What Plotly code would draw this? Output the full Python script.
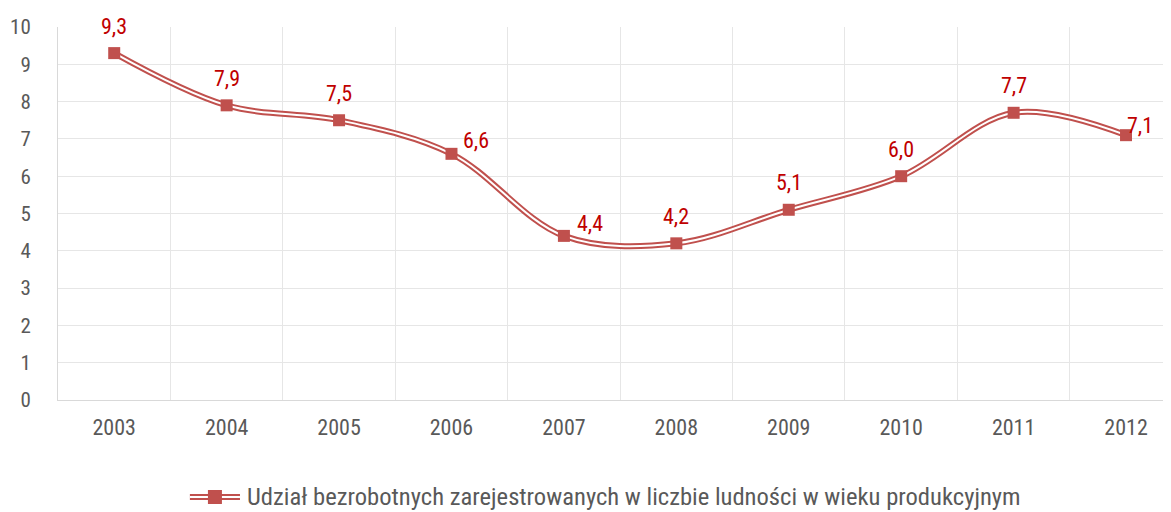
import plotly.graph_objects as go

years = ["2003", "2004", "2005", "2006", "2007", "2008", "2009", "2010", "2011", "2012"]
values = [9.3, 7.9, 7.5, 6.6, 4.4, 4.2, 5.1, 6.0, 7.7, 7.1]
labels = ["9,3", "7,9", "7,5", "6,6", "4,4", "4,2", "5,1", "6,0", "7,7", "7,1"]
series_name = "Udział bezrobotnych zarejestrowanych w liczbie ludności w wieku produkcyjnym"

# label offsets (px) so they sit where the original chart put them
label_dx = [0, 0, 0, 25, 26, 0, 0, 0, 0, 14]
label_dy = [27, 27, 27, 13, 12, 27, 27, 27, 27, 10]

RED = "#C0504D"
LABEL_RED = "#C00000"
GREY = "#595959"
FONT = "Liberation Sans Narrow, Arial Narrow, Roboto Condensed, Liberation Sans, sans-serif"

fig = go.Figure()

# outer red stroke
fig.add_trace(go.Scatter(
    x=years, y=values, mode="lines",
    line=dict(color=RED, width=6, shape="spline", smoothing=1.0),
    showlegend=False, hoverinfo="skip"
))
# white core makes the double line
fig.add_trace(go.Scatter(
    x=years, y=values, mode="lines",
    line=dict(color="white", width=2, shape="spline", smoothing=1.0),
    showlegend=False, hoverinfo="skip"
))
fig.add_trace(go.Scatter(
    x=years, y=values, mode="markers", name=series_name,
    marker=dict(symbol="square", size=12, color=RED),
    showlegend=False,
    hovertemplate="%{x}: %{y}<extra></extra>"
))

for i, (v, txt, dx, dy) in enumerate(zip(values, labels, label_dx, label_dy)):
    fig.add_annotation(
        x=i, y=v, text=txt, showarrow=False,
        xshift=dx, yshift=dy,
        font=dict(family=FONT, size=22, color=LABEL_RED)
    )

# hand-made legend: double line with square, then the series name
LEG_Y = -0.26
fig.add_shape(type="line", xref="x domain", yref="paper",
              x0=0.1185, x1=0.1635, y0=LEG_Y, y1=LEG_Y, line=dict(color=RED, width=6))
fig.add_shape(type="line", xref="x domain", yref="paper",
              x0=0.1185, x1=0.1635, y0=LEG_Y, y1=LEG_Y, line=dict(color="white", width=2))
fig.add_shape(type="rect", xref="x domain", yref="paper",
              xsizemode="pixel", ysizemode="pixel", xanchor=0.141, yanchor=LEG_Y,
              x0=-7, x1=7, y0=-7, y1=7, fillcolor=RED, line=dict(width=0))
fig.add_annotation(xref="x domain", yref="paper", x=0.168, y=LEG_Y,
                   xanchor="left", yanchor="middle",
                   text=series_name, showarrow=False,
                   font=dict(family=FONT, size=24.6, color=GREY))

fig.update_layout(
    width=1171, height=512,
    margin=dict(l=50, r=8, t=19, b=120),
    plot_bgcolor="white", paper_bgcolor="white",
    font=dict(family=FONT, size=22, color=GREY),
    showlegend=False,
    xaxis=dict(
        type="category", range=[-0.5, 9.4], tickson="boundaries",
        showgrid=True, gridcolor="#E6E6E6", gridwidth=1,
        showline=True, linecolor="#D9D9D9", linewidth=1,
        ticks="", ticklabelstandoff=8, zeroline=False, automargin=False
    ),
    yaxis=dict(
        range=[0, 10], dtick=1, tickfont=dict(size=21),
        showgrid=True, gridcolor="#E6E6E6", gridwidth=1,
        showline=True, linecolor="#D9D9D9", linewidth=1,
        ticks="", ticklabelstandoff=22, zeroline=False, automargin=False
    ),
)

fig.write_html("out.html")
